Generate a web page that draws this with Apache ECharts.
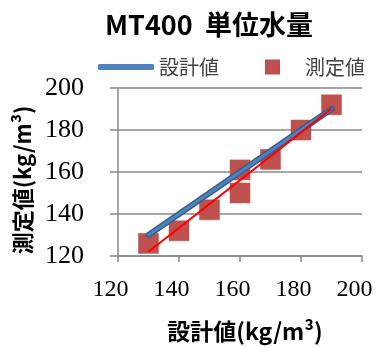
<!DOCTYPE html>
<html>
<head>
<meta charset="utf-8">
<script src="https://cdn.jsdelivr.net/npm/echarts@6/dist/echarts.min.js"></script>
<style>
  html, body { margin: 0; padding: 0; background: #fff; }
  #chart { width: 385px; height: 347px; }
</style>
</head>
<body>
<div id="chart"></div>
<script>
// Design vs measured unit water content (kg/m3)
const titleText = 'MT400  単位水量';
const designName = '設計値';
const measuredName = '測定値';
const xAxisTitle = '設計値(kg/m³)';
const yAxisTitle = '測定値(kg/m³)';

const designX = [130, 190];
const designY = [130, 190];

const measuredX = [130, 140, 150, 160, 160, 170, 180, 190];
const measuredY = [126, 132, 142, 161, 150, 166, 180, 192];

const axisMin = 120;
const axisMax = 200;
const axisStep = 20;

// least-squares trend line through the measured points
function linearFit(xs, ys) {
  const n = xs.length;
  const mx = xs.reduce((a, b) => a + b, 0) / n;
  const my = ys.reduce((a, b) => a + b, 0) / n;
  let sxy = 0, sxx = 0;
  for (let i = 0; i < n; i++) {
    sxy += (xs[i] - mx) * (ys[i] - my);
    sxx += (xs[i] - mx) * (xs[i] - mx);
  }
  const slope = sxy / sxx;
  return x => my + slope * (x - mx);
}
const fit = linearFit(measuredX, measuredY);
const xLo = Math.min(...measuredX), xHi = Math.max(...measuredX);
const trendData = [[xLo, fit(xLo)], [xHi, fit(xHi)]];

const designData = designX.map((x, i) => [x, designY[i]]);
const measuredData = measuredX.map((x, i) => [x, measuredY[i]]);

const gridGrey = '#898989';
const chart = echarts.init(document.getElementById('chart'), null, { renderer: 'canvas' });

chart.setOption({
  animation: false,
  backgroundColor: '#ffffff',
  title: {
    text: titleText,
    left: 100,
    top: 6,
    textStyle: {
      fontFamily: 'Noto Sans CJK JP',
      fontWeight: 'bold',
      fontSize: 27,
      color: '#000'
    }
  },
  legend: [
    {
      data: [{ name: designName, icon: 'roundRect', itemStyle: { color: '#4f81bd' } }],
      left: 93,
      top: 52,
      itemWidth: 56,
      itemHeight: 6,
      textStyle: { fontFamily: 'Noto Sans CJK JP', fontSize: 20, color: '#404040' }
    },
    {
      data: [{ name: measuredName, icon: 'rect' }],
      left: 260,
      top: 52,
      itemWidth: 13,
      itemHeight: 13,
      textStyle: { fontFamily: 'Noto Sans CJK JP', fontSize: 20, color: '#404040', padding: [0, 0, 0, 21] }
    }
  ],
  grid: { left: 118, right: 23, top: 88, bottom: 91, containLabel: false },
  xAxis: {
    type: 'value',
    min: axisMin,
    max: axisMax,
    interval: axisStep,
    name: xAxisTitle,
    nameLocation: 'middle',
    nameGap: 64,
    nameTextStyle: {
      fontFamily: 'Noto Sans CJK JP',
      fontWeight: 'bold',
      fontSize: 23,
      color: '#000',
      padding: [0, 0, 0, 10]
    },
    axisLine: { show: true, lineStyle: { color: gridGrey, width: 1.5 } },
    axisTick: { show: true, inside: false, length: 6, lineStyle: { color: gridGrey, width: 1.5 } },
    splitLine: { show: false },
    axisLabel: {
      fontFamily: 'Liberation Serif',
      fontSize: 24,
      color: '#000',
      margin: 22,
      padding: [0, 15, 0, 0]
    }
  },
  yAxis: {
    type: 'value',
    min: axisMin,
    max: axisMax,
    interval: axisStep,
    name: yAxisTitle,
    nameLocation: 'middle',
    nameGap: 78,
    nameRotate: 90,
    nameTextStyle: {
      fontFamily: 'Noto Sans CJK JP',
      fontWeight: 'bold',
      fontSize: 22,
      color: '#000',
      padding: [0, 16, 0, 0]
    },
    axisLine: { show: true, lineStyle: { color: gridGrey, width: 1.5 } },
    axisTick: { show: true, inside: false, length: 8, lineStyle: { color: gridGrey, width: 1.5 } },
    splitLine: { show: true, lineStyle: { color: gridGrey, width: 1.5 } },
    axisLabel: {
      fontFamily: 'Liberation Serif',
      fontSize: 26,
      color: '#000',
      margin: 34
    }
  },
  series: [
    {
      name: measuredName,
      type: 'scatter',
      data: measuredData,
      symbol: 'rect',
      symbolSize: 20,
      itemStyle: { color: '#c0504d', borderColor: '#b9504d', borderWidth: 0.5, opacity: 1 },
      z: 2
    },
    {
      // darker outer edge of the design line
      name: 'design-edge',
      type: 'line',
      data: designData,
      symbol: 'none',
      lineStyle: { color: '#35618f', width: 6, cap: 'round' },
      silent: true,
      z: 3
    },
    {
      name: designName,
      type: 'line',
      data: designData,
      symbol: 'none',
      itemStyle: { color: '#4f81bd' },
      lineStyle: { color: '#4f81bd', width: 3, cap: 'round' },
      z: 4
    },
    {
      name: 'trend',
      type: 'line',
      data: trendData,
      symbol: 'none',
      lineStyle: { color: '#ff0000', width: 2 },
      silent: true,
      z: 5
    }
  ]
});
</script>
</body>
</html>
